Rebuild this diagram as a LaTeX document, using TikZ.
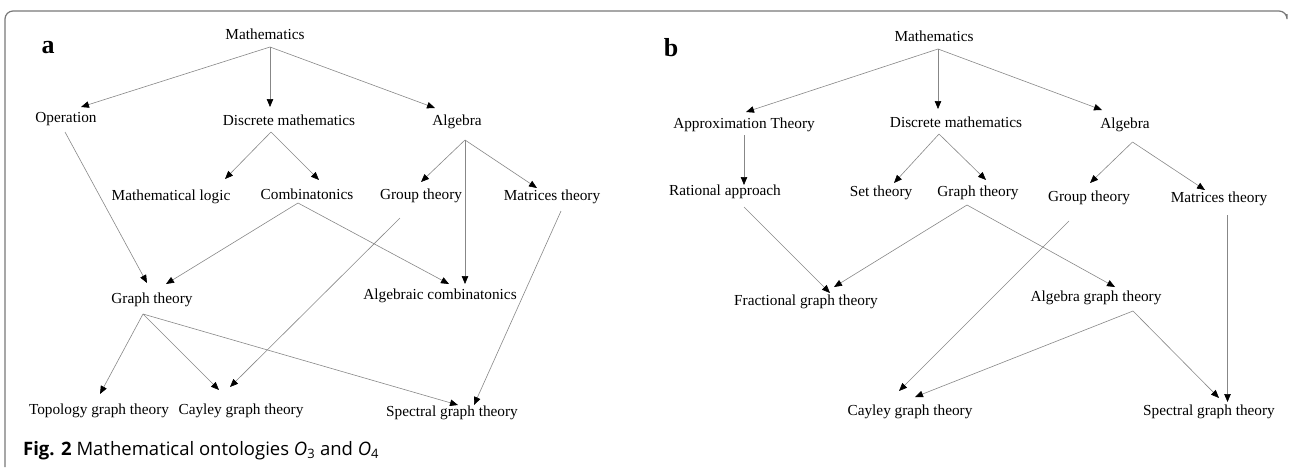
\documentclass[tikz,border=0pt]{standalone}
\usepackage{fontspec}
\usepackage{tikz}
\setsansfont{Open Sans}
\newfontfamily\nodefont{Liberation Serif}
\definecolor{ln}{RGB}{135, 135, 135}
\definecolor{fr}{RGB}{120, 120, 120}
\usetikzlibrary{arrows.meta}
\usetikzlibrary{positioning}

\begin{document}
\begin{tikzpicture}[x=1pt, y=-1pt,
  lbl/.style={inner sep=0pt, text height=0.66em, text depth=0pt, font=\nodefont\fontsize{15.3}{15.3}\selectfont},
  panel/.style={inner sep=0pt, font=\nodefont\fontsize{26}{26}\selectfont\bfseries},
  arr/.style={draw=ln, line width=0.6pt, -{Triangle[length=8pt, width=6.5pt, color=black, fill=black]}}]
\useasboundingbox (0,0) rectangle (1289,467);
\draw [fr, line width=1.2pt, rounded corners=8pt] (1287,14) -- (1287,11) -- (5,11) -- (5,467);
\node (pa) [panel] at (48, 48) {a};
\node (pb) [panel] at (671, 48) {b};
\node (a1) [lbl] at (265, 36) {Mathematics};
\node (a2) [lbl] at (66, 119) {Operation};
\node (a3) [lbl] at (289, 122) {Discrete mathematics};
\node (a4) [lbl] at (457, 122) {Algebra};
\node (a5) [lbl] at (171, 197) {Mathematical logic};
\node (a6) [lbl] at (307, 196) {Combinatonics};
\node (a7) [lbl] at (421, 196) {Group theory};
\node (a8) [lbl] at (552, 197) {Matrices theory};
\node (a9) [lbl] at (152, 300) {Graph theory};
\node (a10) [lbl] at (440, 296) {Algebraic combinatonics};
\node (a11) [lbl] at (99, 411) {Topology graph theory};
\node (a12) [lbl] at (241, 411) {Cayley graph theory};
\node (a13) [lbl] at (452, 413) {Spectral graph theory};
\draw [arr] ([shift={(5,11)}]a1.center) -- ([shift={(15,-12)}]a2.center);
\draw [arr] ([shift={(5,11)}]a1.center) -- ([shift={(-19,-15)}]a3.center);
\draw [arr] ([shift={(5,11)}]a1.center) -- ([shift={(-22,-14)}]a4.center);
\draw [arr] ([shift={(-18,10)}]a3.center) -- ([shift={(54,-18)}]a5.center);
\draw [arr] ([shift={(-18,10)}]a3.center) -- ([shift={(12,-16)}]a6.center);
\draw [arr] ([shift={(8,18)}]a4.center) -- ([shift={(0,-14)}]a7.center);
\draw [arr] ([shift={(8,18)}]a4.center) -- ([shift={(-15,-9)}]a8.center);
\draw [arr] ([shift={(8,18)}]a4.center) -- ([shift={(25,-12)}]a10.center);
\draw [arr] ([shift={(-1,13)}]a2.center) -- ([shift={(-5,-17)}]a9.center);
\draw [arr] ([shift={(-9,7)}]a6.center) -- ([shift={(14,-16)}]a9.center);
\draw [arr] ([shift={(-9,7)}]a6.center) -- ([shift={(9,-12)}]a10.center);
\draw [arr] ([shift={(-21,22)}]a7.center) -- ([shift={(-11,-24)}]a12.center);
\draw [arr] ([shift={(9,14)}]a8.center) -- ([shift={(22,-8)}]a13.center);
\draw [arr] ([shift={(-9,14)}]a9.center) -- ([shift={(1,-17)}]a11.center);
\draw [arr] ([shift={(-9,14)}]a9.center) -- ([shift={(-22,-21)}]a12.center);
\draw [arr] ([shift={(-9,14)}]a9.center) -- ([shift={(6,-8)}]a13.center);
\node (b1) [lbl] at (934, 38) {Mathematics};
\node (b2) [lbl] at (744, 125) {Approximation Theory};
\node (b3) [lbl] at (956, 124) {Discrete mathematics};
\node (b4) [lbl] at (1125, 125) {Algebra};
\node (b5) [lbl] at (725, 192) {Rational approach};
\node (b6) [lbl] at (881, 193) {Set theory};
\node (b7) [lbl] at (978, 193) {Graph theory};
\node (b8) [lbl] at (1089, 198) {Group theory};
\node (b9) [lbl] at (1219, 199) {Matrices theory};
\node (b10) [lbl] at (806, 302) {Fractional graph theory};
\node (b11) [lbl] at (1096, 298) {Algebra graph theory};
\node (b12) [lbl] at (910, 412) {Cayley graph theory};
\node (b13) [lbl] at (1209, 412) {Spectral graph theory};
\draw [arr] ([shift={(4,11)}]b1.center) -- ([shift={(2,-13)}]b2.center);
\draw [arr] ([shift={(4,11)}]b1.center) -- ([shift={(-18,-15)}]b3.center);
\draw [arr] ([shift={(4,11)}]b1.center) -- ([shift={(-23,-15)}]b4.center);
\draw [arr] ([shift={(0,10)}]b2.center) -- ([shift={(19,-7)}]b5.center);
\draw [arr] ([shift={(-17,10)}]b3.center) -- ([shift={(13,-10)}]b6.center);
\draw [arr] ([shift={(-17,10)}]b3.center) -- ([shift={(8,-13)}]b7.center);
\draw [arr] ([shift={(7.5,17)}]b4.center) -- ([shift={(1,-15)}]b8.center);
\draw [arr] ([shift={(7.5,17)}]b4.center) -- ([shift={(-14,-9)}]b9.center);
\draw [arr] ([shift={(19,15)}]b5.center) -- ([shift={(24,-9)}]b10.center);
\draw [arr] ([shift={(-11,12)}]b7.center) -- ([shift={(28,-15)}]b10.center);
\draw [arr] ([shift={(-11,12)}]b7.center) -- ([shift={(19,-11)}]b11.center);
\draw [arr] ([shift={(-20,23)}]b8.center) -- ([shift={(-11,-21)}]b12.center);
\draw [arr] ([shift={(8.5,16)}]b9.center) -- ([shift={(18.5,-10)}]b13.center);
\draw [arr] ([shift={(37,13)}]b11.center) -- ([shift={(5,-15)}]b12.center);
\draw [arr] ([shift={(37,13)}]b11.center) -- ([shift={(10,-14)}]b13.center);
\node (cap) [anchor=base west, inner sep=0pt, font=\sffamily\fontsize{18.5}{18.5}\selectfont] at (23, 455) {\textbf{Fig. 2} Mathematical ontologies \textit{O}\textsubscript{3} and \textit{O}\textsubscript{4}};
\end{tikzpicture}
\end{document}
